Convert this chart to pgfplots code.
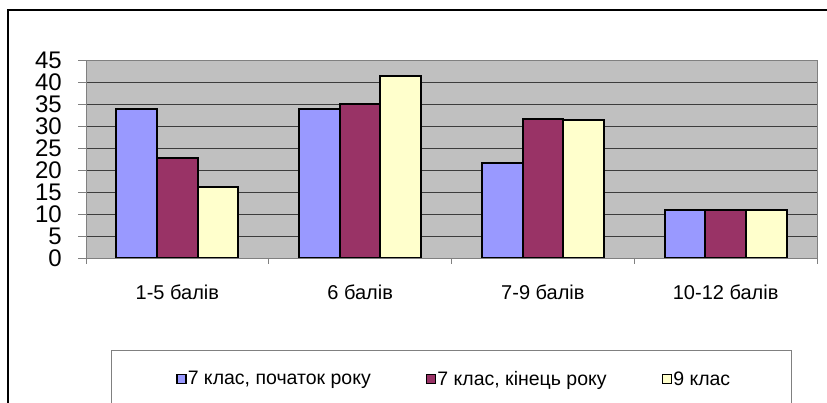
\documentclass[border=0pt]{standalone}
\usepackage{pgfplots}
\pgfplotsset{compat=1.18}
\usepackage{fontspec}
\setmainfont{Liberation Sans}
\definecolor{cblue}{RGB}{153,153,255}
\definecolor{cmaroon}{RGB}{153,51,102}
\definecolor{cyellow}{RGB}{255,255,204}
\definecolor{cbg}{RGB}{192,192,192}
\definecolor{cgrid}{RGB}{60,60,60}
\definecolor{cframe}{RGB}{128,128,128}
\pgfplotsset{legsq/.style={legend image code/.code={\draw[draw=black, fill=#1, line width=1.6pt] (0pt,-4.5pt) rectangle (9pt,4.5pt);}}}
\begin{document}
\begin{tikzpicture}[x=1pt,y=1pt]
\clip (0,0) rectangle (827,403);
\fill[white] (0,0) rectangle (827,403);
\draw[line width=2pt] (8,-20) rectangle (850,393);
\draw[cframe, line width=1pt] (111,-20) rectangle (791,52);
\begin{axis}[
  at={(86pt,145pt)}, anchor=south west,
  width=731pt, height=198pt, scale only axis,
  ybar=0pt, bar width=40.7pt,
  xmin=-0.5, xmax=3.5, ymin=0, ymax=45,
  xtick={0,1,2,3},
  xticklabels={1-5 балів, 6 балів, 7-9 балів, 10-12 балів},
  minor xtick={-0.5,0.5,1.5,2.5,3.5},
  ytick={0,5,...,45},
  tick align=outside, xtick pos=bottom, ytick pos=left,
  major x tick style={draw=none},
  minor x tick style={cframe, line width=0.8pt},
  y tick style={cframe, line width=0.8pt},
  major tick length=8pt, minor tick length=6pt,
  axis background/.style={fill=cbg},
  ymajorgrids, major grid style={cgrid, line width=0.8pt},
  axis line style={cframe, line width=0.8pt},
  /pgf/number format/assume math mode=true,
  yticklabel style={font=\fontsize{24}{24}\selectfont, anchor=east, inner sep=0pt, xshift=-16pt},
  xticklabel style={font=\fontsize{20}{20}\selectfont, yshift=-15pt},
  legend style={at={(0.503,-0.611)}, anchor=center, draw=none, fill=none,
    legend columns=3, font=\fontsize{19.5}{19.5}\selectfont,
    /tikz/every even column/.append style={column sep=54pt},
    nodes={inner sep=1pt}},
]
\addplot[fill=cblue, draw=black, line width=2pt, legsq=cblue] coordinates {(0,33.8) (1,33.8) (2,21.6) (3,10.8)};
\addplot[fill=cmaroon, draw=black, line width=2pt, legsq=cmaroon] coordinates {(0,22.8) (1,34.9) (2,31.5) (3,10.8)};
\addplot[fill=cyellow, draw=black, line width=2pt, legsq=cyellow] coordinates {(0,16.2) (1,41.3) (2,31.4) (3,10.8)};
\legend{{7 клас, початок року}, {7 клас, кінець року}, {9 клас}}
\end{axis}
\end{tikzpicture}
\end{document}
